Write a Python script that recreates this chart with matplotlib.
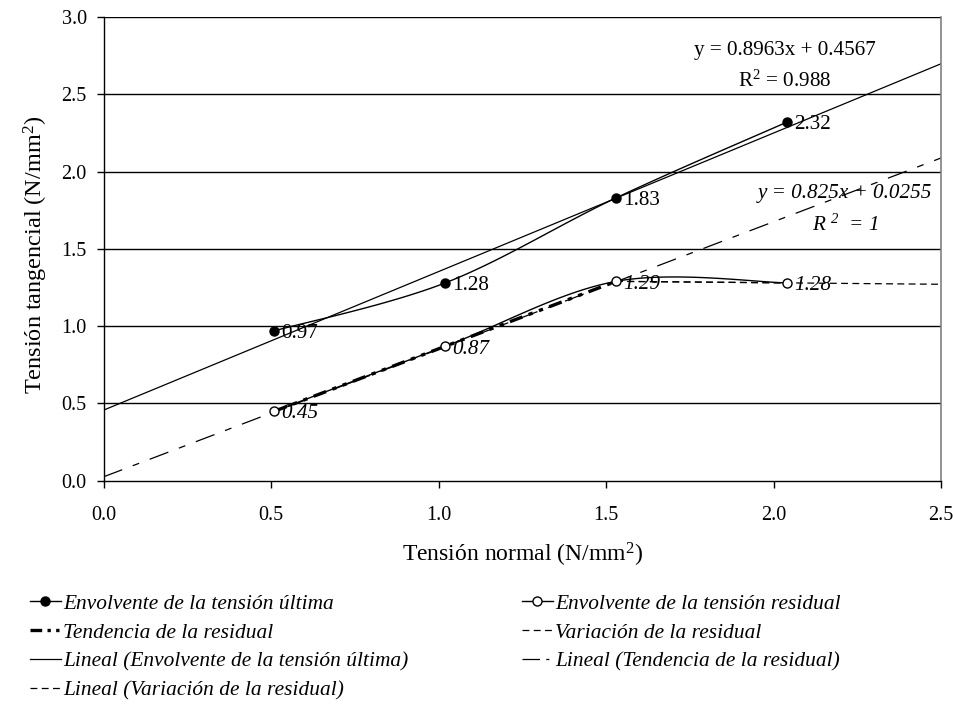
import numpy as np
import matplotlib
matplotlib.use("Agg")
import matplotlib.pyplot as plt
from matplotlib.lines import Line2D

# ── Data ──────────────────────────────────────────────────────────────────────
normal = [0.51, 1.02, 1.53, 2.04]
ultima = [0.97, 1.28, 1.83, 2.32]
residual = [0.45, 0.87, 1.29, 1.28]

tend_x = [0.51, 1.02, 1.53]
tend_y = [0.45, 0.87, 1.29]
var_x = [1.53, 2.04]
var_y = [1.29, 1.28]

fit_ult = (0.8963, 0.4567)     # slope, intercept
fit_tend = (0.825, 0.0255)

xticks = [0.0, 0.5, 1.0, 1.5, 2.0, 2.5]
yticks = [0.0, 0.5, 1.0, 1.5, 2.0, 2.5, 3.0]

FS_TICK = 14.5
FS_LAB = 17
FS_TXT = 15.2
plt.rcParams["font.family"] = "Liberation Serif"
plt.rcParams["mathtext.default"] = "regular"


def smooth(xs, ys, n=40):
    # Excel-like smoothed line (Catmull-Rom bezier through the points)
    P = np.column_stack([xs, ys]).astype(float)
    P_ext = np.vstack([P[0], P, P[-1]])
    out = []
    for i in range(len(P) - 1):
        p0, p1, p2, p3 = P_ext[i], P_ext[i + 1], P_ext[i + 2], P_ext[i + 3]
        c1 = p1 + (p2 - p0) / 6
        c2 = p2 - (p3 - p1) / 6
        t = np.linspace(0, 1, n)[:, None]
        seg = ((1 - t) ** 3 * p1 + 3 * (1 - t) ** 2 * t * c1
               + 3 * (1 - t) * t ** 2 * c2 + t ** 3 * p2)
        out.append(seg if i == 0 else seg[1:])
    out = np.vstack(out)
    return out[:, 0], out[:, 1]


fig = plt.figure(figsize=(9.54, 7.06), dpi=100)
ax = fig.add_axes([0.1085, 0.319, 0.878, 0.657])

# gridlines
for yv in yticks[1:]:
    ax.axhline(yv, color="black", lw=1.0, zorder=1)

dash_tend = (0, (16, 9, 5.5, 9))
dash_thin = (0, (5.5, 3.5))
dash_bold = (0, (4, 2, 1.3, 2, 1.3, 2))

# trend lines
xx = np.array([0.0, 2.5])
ax.plot(xx, fit_ult[0] * xx + fit_ult[1], color="black", lw=0.9, zorder=2)
ax.plot(xx, fit_tend[0] * xx + fit_tend[1], color="black", lw=0.9,
        linestyle=dash_tend, zorder=2)
k, b = np.polyfit(var_x, var_y, 1)
xv = np.array([var_x[0], 2.5])
ax.plot(xv, k * xv + b, color="black", lw=0.9, linestyle=dash_thin, zorder=2)

# series
ax.plot(var_x, var_y, color="black", lw=0.9, linestyle=dash_thin, zorder=3)
ax.plot(tend_x, tend_y, color="black", lw=2.4, linestyle=dash_bold, zorder=3)

sx, sy = smooth(normal, ultima)
ax.plot(sx, sy, color="black", lw=1.0, zorder=4)
ax.plot(normal, ultima, "o", ms=6.5, mfc="black", mec="black", zorder=5)
sx, sy = smooth(normal, residual)
ax.plot(sx, sy, color="black", lw=1.0, zorder=4)
ax.plot(normal, residual, "o", ms=6.5, mfc="white", mec="black", mew=1.0, zorder=5)

for x, y in zip(normal, ultima):
    ax.annotate(f"{y:.2f}", (x, y), xytext=(5, -2), textcoords="offset points",
                va="center", ha="left", fontsize=FS_TXT, zorder=6)
for x, y in zip(normal, residual):
    ax.annotate(f"{y:.2f}", (x, y), xytext=(5, -2), textcoords="offset points",
                va="center", ha="left", fontsize=FS_TXT, style="italic", zorder=6)

# equations
ax.text(2.034, 2.78, f"y = {fit_ult[0]:.4f}x + {fit_ult[1]:.4f}", ha="center",
        va="center", fontsize=FS_TXT)
ax.text(2.034, 2.585, "R$^2$ = 0.988", ha="center", va="center", fontsize=FS_TXT)
ax.text(2.213, 1.855, f"y = {fit_tend[0]}x + {fit_tend[1]}", ha="center",
        va="center", fontsize=FS_TXT, style="italic")
ax.text(2.213, 1.65, "R $^2$  = 1", ha="center", va="center", fontsize=FS_TXT,
        style="italic")

ax.set_xlim(0, 2.5)
ax.set_ylim(0, 3.0)
ax.set_xticks(xticks)
ax.set_yticks(yticks)
ax.set_xticklabels([f"{v:.1f}" for v in xticks], fontsize=FS_TICK)
ax.set_yticklabels([f"{v:.1f}" for v in yticks], fontsize=FS_TICK)
ax.tick_params(direction="out", length=5, width=1, color="black")
ax.tick_params(axis="x", pad=13)
ax.tick_params(axis="y", pad=7)
ax.spines["top"].set_visible(False)
ax.spines["right"].set_color("#808080")
ax.spines["right"].set_linewidth(1.2)
ax.spines["left"].set_linewidth(1.0)
ax.spines["bottom"].set_linewidth(1.0)

ax.set_xlabel("Tensión normal (N/mm$^2$)", fontsize=FS_LAB)
ax.set_ylabel("Tensión tangencial (N/mm$^2$)", fontsize=17.5)
ax.xaxis.set_label_coords(0.5, -0.13)
ax.yaxis.set_label_coords(-0.064, 0.487)

# legend
h_ult = Line2D([], [], color="black", lw=1.0, marker="o", ms=6.5, mfc="black")
h_res = Line2D([], [], color="black", lw=1.0, marker="o", ms=6.5, mfc="white")
h_tend = Line2D([], [], color="black", lw=2.4, linestyle=(0, (3.5, 1.6, 1.0, 1.6, 1.0, 1.6)))
h_var = Line2D([], [], color="black", lw=0.9, linestyle=dash_thin)
h_lult = Line2D([], [], color="black", lw=0.9)
h_ltend = Line2D([], [], color="black", lw=0.9, linestyle=(0, (14, 5, 2.5, 5)))
h_lvar = Line2D([], [], color="black", lw=0.9, linestyle=dash_thin)

leg_kw = dict(frameon=False, handlelength=1.45, handletextpad=0.12,
              labelspacing=0.42, borderpad=0, borderaxespad=0,
              prop={"style": "italic", "size": 15.4})
fig.legend([h_ult, h_tend, h_lult, h_lvar],
           ["Envolvente de la tensión última", "Tendencia de la residual",
            "Lineal (Envolvente de la tensión última)",
            "Lineal (Variación de la residual)"],
           loc="upper left", bbox_to_anchor=(0.031, 0.159), **leg_kw)
fig.legend([h_res, h_var, h_ltend],
           ["Envolvente de la tensión residual", "Variación de la residual",
            "Lineal (Tendencia de la residual)"],
           loc="upper left", bbox_to_anchor=(0.547, 0.159), **leg_kw)

fig.savefig("out.png", dpi=100)
